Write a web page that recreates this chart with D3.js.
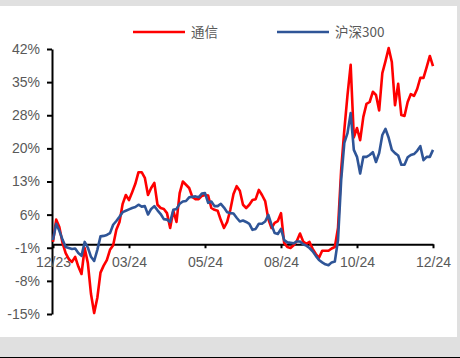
<!DOCTYPE html>
<html>
<head>
<meta charset="utf-8">
<script src="https://cdn.jsdelivr.net/npm/d3@7/dist/d3.min.js"></script>
<style>
  html, body { margin: 0; padding: 0; background: #e0e0e0; }
  svg { display: block; }
</style>
</head>
<body>
<svg id="chart" width="460" height="358"></svg>
<script>
// Cumulative return (%) since end of 2023, one reading per sample step
const telecom = [
  0.5, 5.3, 3.7, 0.3, -1.9, -3.2, -3.8, -2.7, -4.8, -6.4,
  -0.8, -4.0, -10.7, -14.8, -11.5, -6.1, -4.6, -3.4, -1.2, -0.2,
  3.1, 4.8, 8.7, 10.6, 9.5, 11.2, 13.0, 15.5, 15.5, 14.3,
  10.6, 12.1, 13.2, 8.5, 7.8, 7.6, 6.7, 3.5, 7.2, 4.8,
  11.0, 13.5, 12.8, 12.1, 10.2, 9.7, 9.7, 10.4, 10.6, 10.5,
  7.8, 7.4, 7.2, 5.2, 3.5, 4.8, 7.4, 10.8, 12.5, 11.5,
  8.5, 7.8, 8.5, 9.5, 9.7, 11.7, 10.6, 9.3, 5.4, 3.5,
  4.6, 5.0, 6.7, 0.3, -0.6, -0.8, -0.2, 0.7, 2.3, 0.6,
  0.1, 0.5, -1.0, -2.1, -2.9, -1.4, -1.4, -1.4, -0.9, -0.6,
  3.5, 16.0, 24.6, 32.1, 38.6, 23.0, 25.0, 22.4, 27.4, 30.2,
  30.6, 32.8, 32.1, 28.8, 36.8, 39.4, 42.2, 39.2, 29.9, 34.5,
  27.8, 27.6, 30.6, 32.3, 31.9, 33.4, 35.8, 35.8, 38.1, 40.5,
  38.3
];

const csi300 = [
  0.9, 4.4, 2.9, 1.0, -0.6, -0.8, -1.0, -0.9, -1.9, -2.5,
  0.5, -0.7, -2.7, -3.6, -1.2, 1.7, 1.8, 2.0, 2.4, 4.2,
  5.0, 5.9, 6.9, 7.2, 7.5, 7.8, 8.0, 8.5, 8.1, 8.2,
  6.4, 7.6, 8.2, 7.3, 6.5, 5.4, 5.3, 4.8, 7.4, 7.6,
  8.7, 9.2, 9.3, 10.1, 10.2, 10.3, 10.1, 10.9, 11.0, 8.9,
  9.2, 8.2, 8.2, 8.7, 7.9, 6.9, 6.7, 6.6, 5.7, 4.9,
  5.1, 4.8, 4.4, 3.1, 3.3, 4.4, 4.4, 4.9, 6.3, 4.2,
  2.4, 2.2, 3.3, 0.9, 0.4, 0.3, 0.2, 0.6, 0.6, 0.0,
  -0.3, -0.8, -1.5, -2.5, -3.4, -3.9, -4.3, -4.5, -3.9, -3.7,
  0.9, 13.8, 21.8, 23.9, 28.2, 20.3, 18.8, 15.2, 18.8, 18.8,
  19.2, 19.8, 17.7, 19.6, 23.5, 24.8, 22.9, 20.3, 19.6, 19.1,
  17.1, 17.1, 18.7, 19.2, 19.4, 20.1, 21.1, 18.1, 18.8, 18.8,
  20.3
];

const seriesNames = ["通信", "沪深300"];
const xTickLabels = ["12/23", "03/24", "05/24", "08/24", "10/24", "12/24"];
const xTickIndex = [0, 24, 48, 72, 96, 120];
const yTickLabels = ["-15%", "-8%", "-1%", "6%", "13%", "20%", "28%", "35%", "42%"];

// ---- styling / layout ----
const colors = ["#ff0000", "#2f5597"];
const labelColor = "#595959";
const font = "'Liberation Sans', Arial, sans-serif";
const cjkFont = "'Noto Sans CJK SC', 'Liberation Sans', sans-serif";

const svg = d3.select("#chart");

// white panel on grey page
svg.append("rect").attr("x", 0).attr("y", 6).attr("width", 457).attr("height", 331).attr("fill", "#ffffff");
svg.append("line").attr("x1", 0).attr("x2", 460).attr("y1", 357.5).attr("y2", 357.5)
  .attr("stroke", "#000").attr("stroke-width", 1);

const yMin = -15, yMax = 42;
const x = d3.scaleLinear().domain([0, telecom.length - 1]).range([53, 433]);
const y = d3.scaleLinear().domain([yMin, yMax]).range([314, 49]);

const yTickValues = yTickLabels.map((_, i) => yMin + i * (yMax - yMin) / (yTickLabels.length - 1));

// y axis
const yAxis = d3.axisLeft(y)
  .tickValues(yTickValues)
  .tickFormat((d, i) => yTickLabels[i])
  .tickSize(5)
  .tickSizeOuter(0)
  .tickPadding(7);
const gy = svg.append("g").attr("transform", "translate(52,0)").call(yAxis);
gy.select(".domain").attr("stroke", "#000").attr("stroke-width", 2);
gy.selectAll(".tick line").attr("stroke", "#000").attr("stroke-width", 2);
gy.selectAll(".tick text").attr("fill", labelColor).style("font-family", font).style("font-size", "14px");

// x axis along the zero line
const xAxis = d3.axisBottom(x)
  .tickValues(xTickIndex)
  .tickFormat((d, i) => xTickLabels[i])
  .tickSize(4)
  .tickSizeOuter(0)
  .tickPadding(9);
const gx = svg.append("g").attr("transform", `translate(0,${y(0)})`).call(xAxis);
gx.select(".domain").attr("stroke", "#000").attr("stroke-width", 2);
gx.selectAll(".tick line").attr("stroke", "#000").attr("stroke-width", 2);
gx.selectAll(".tick text").attr("fill", labelColor).style("font-family", font).style("font-size", "14px");

// series lines
const line = d3.line().x((d, i) => x(i)).y(d => y(d));
[telecom, csi300].forEach((vals, k) => {
  svg.append("path")
    .datum(vals)
    .attr("d", line)
    .attr("fill", "none")
    .attr("stroke", colors[k])
    .attr("stroke-width", 2.6)
    .attr("stroke-linejoin", "round");
});

// legend
const legendX = [133, 277];
seriesNames.forEach((name, k) => {
  const g = svg.append("g").attr("transform", `translate(${legendX[k]},32)`);
  g.append("line").attr("x1", 0).attr("x2", 52).attr("y1", 0).attr("y2", 0)
    .attr("stroke", colors[k]).attr("stroke-width", 2.5);
  g.append("text").attr("x", 58).attr("y", 5)
    .attr("fill", labelColor)
    .style("font-family", cjkFont).style("font-size", "13.5px")
    .text(name);
});
</script>
</body>
</html>
